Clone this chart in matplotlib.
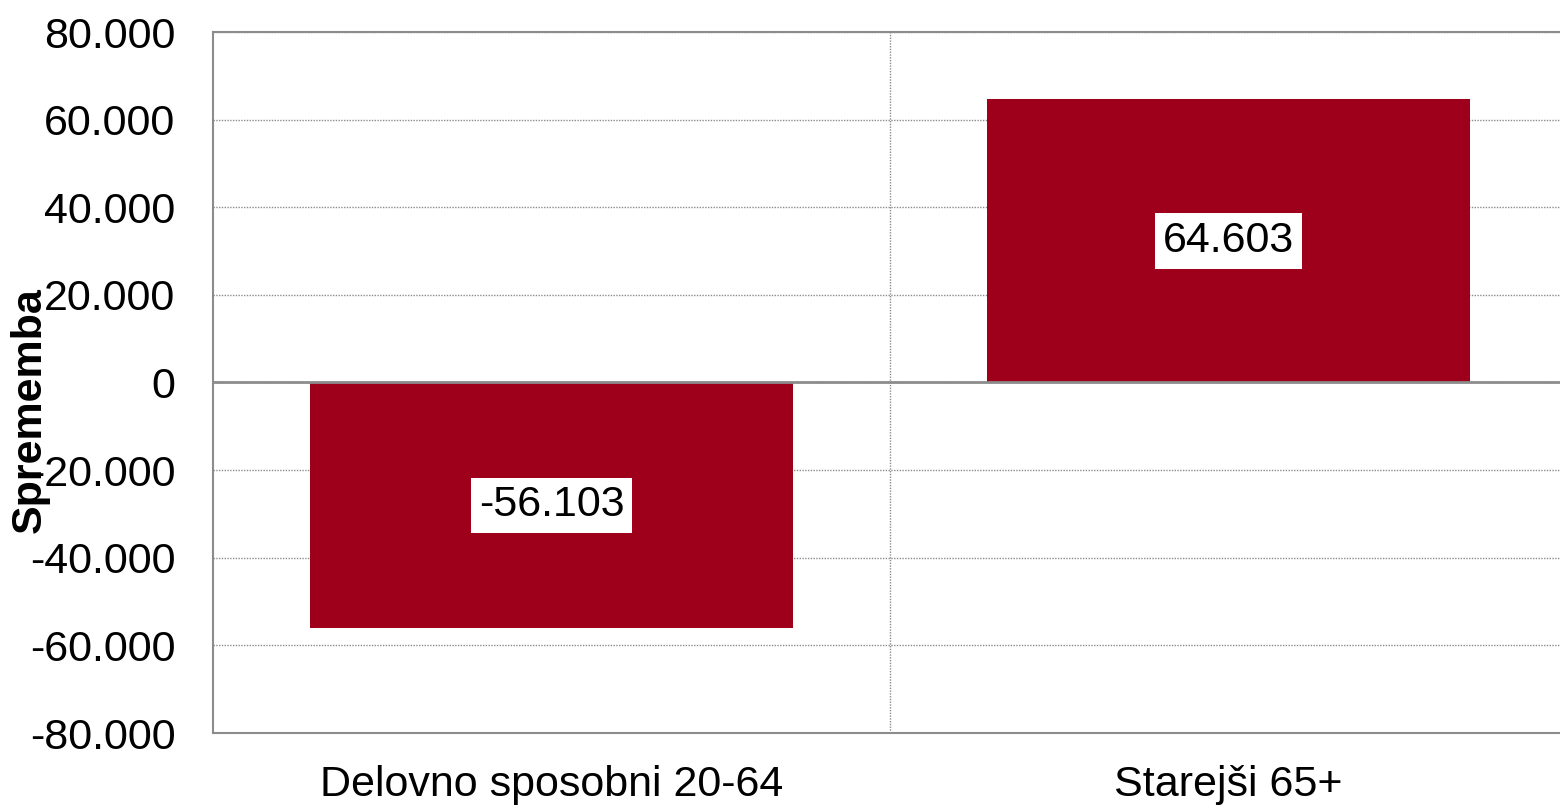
import matplotlib
matplotlib.use("Agg")
import matplotlib.pyplot as plt
from matplotlib.ticker import FuncFormatter, MultipleLocator

plt.rcParams['font.family'] = ['Liberation Sans', 'DejaVu Sans']

categories = ["Delovno sposobni 20-64", "Starejši 65+"]
values = [-56103, 64603]
bar_labels = ["-56.103", "64.603"]
y_label = "Sprememba"

BAR_COLOR = "#9E001B"
GRID_COLOR = "#8c8c8c"
FS = 31

fig = plt.figure(figsize=(15.6, 8.05), dpi=100)
ax = fig.add_axes([213/1560, 1 - 733/805, 1354/1560, 701/805])

x = list(range(len(categories)))
bars = ax.bar(x, values, width=0.713, color=BAR_COLOR, zorder=3)

ax.set_xlim(-0.5, 1.5)
ax.set_ylim(-80000, 80000)
ax.yaxis.set_major_locator(MultipleLocator(20000))

def fmt(v, pos):
    v = int(round(v))
    if v == 0:
        return "0"
    s = f"{abs(v):,}".replace(",", ".")
    return ("-" if v < 0 else "") + s

ax.yaxis.set_major_formatter(FuncFormatter(fmt))
ax.set_xticks(x)
ax.set_xticklabels(categories)

ax.tick_params(axis='both', length=0, labelsize=FS)
ax.tick_params(axis='y', pad=27)
ax.tick_params(axis='x', pad=23)

ax.grid(axis='y', linestyle=(0, (1, 1)), color=GRID_COLOR, linewidth=1, zorder=0)
ax.axvline(0.5, linestyle=(0, (1, 1)), color=GRID_COLOR, linewidth=1, zorder=0)
ax.axhline(0, color=GRID_COLOR, linewidth=2, zorder=4)

for side in ['left', 'bottom', 'top']:
    ax.spines[side].set_color(GRID_COLOR)
    ax.spines[side].set_linewidth(1.5)
ax.spines['right'].set_visible(False)

for b, lab in zip(bars, bar_labels):
    cx = b.get_x() + b.get_width() / 2
    cy = b.get_y() + b.get_height() / 2
    ax.text(cx, cy, lab, ha='center', va='center', fontsize=FS, color='black',
            zorder=5, bbox=dict(boxstyle='square,pad=0.18', facecolor='white', edgecolor='none'))

fig.text(30/1560, 1 - 410/805, y_label, rotation=90, ha='center', va='center',
         fontsize=FS, fontweight='bold')

fig.savefig("out.png", dpi=100)
